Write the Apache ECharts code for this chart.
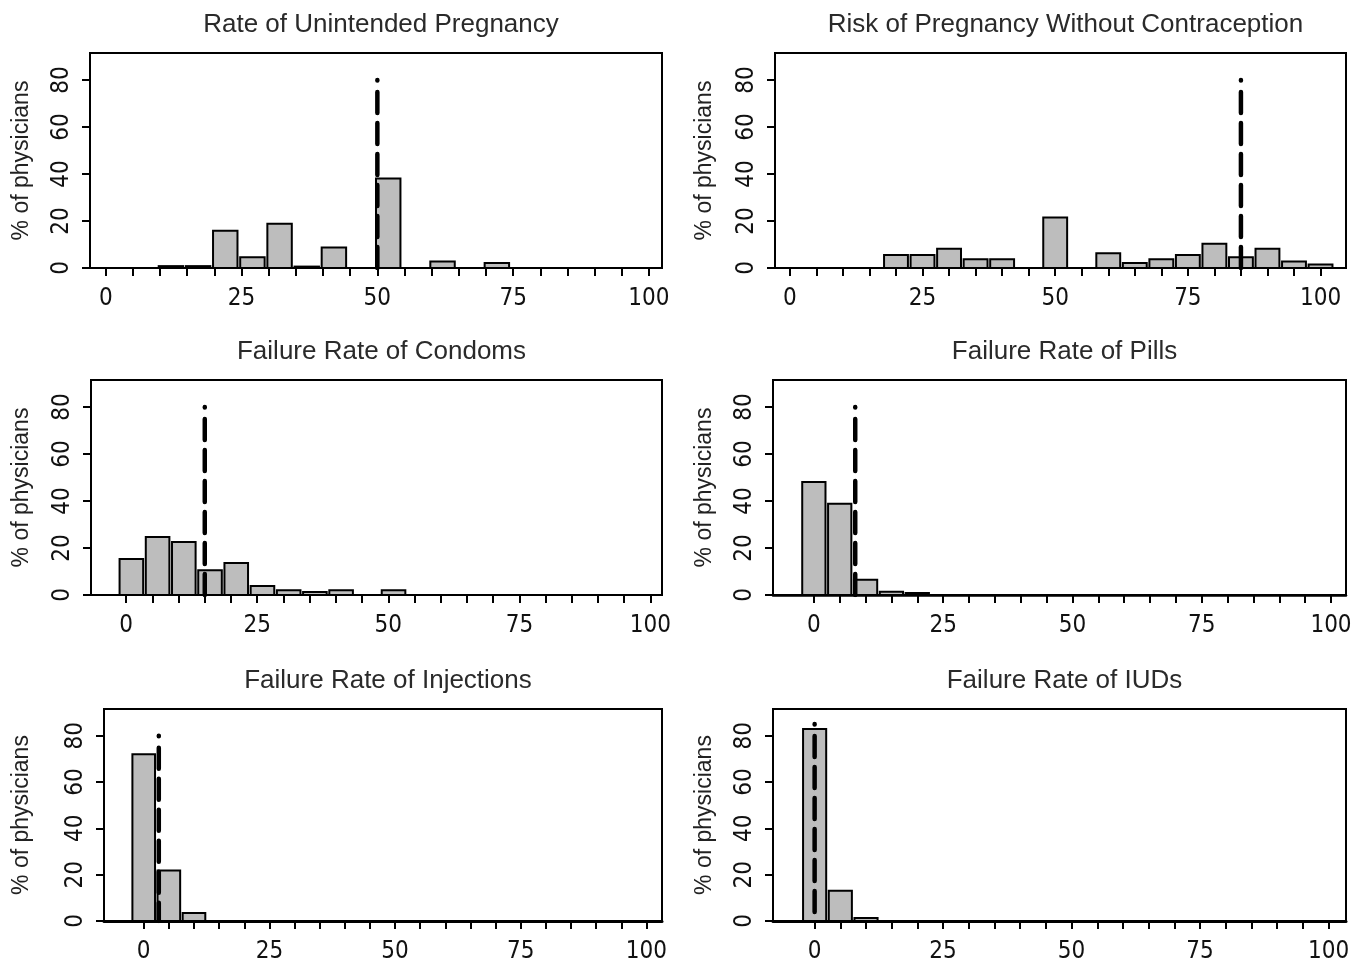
<!DOCTYPE html>
<html>
<head>
<meta charset="utf-8">
<title>Physician estimates of pregnancy risk</title>
<script src="https://cdn.jsdelivr.net/npm/echarts@6.0.0/dist/echarts.min.js"></script>
<style>
  * { margin: 0; padding: 0; }
  body { background: #fff; }
  #chart { width: 1365px; height: 964px; }
</style>
</head>
<body>
<div id="chart"></div>
<script>
// titles of the six panels
var titles = [
  'Rate of Unintended Pregnancy',
  'Risk of Pregnancy Without Contraception',
  'Failure Rate of Condoms',
  'Failure Rate of Pills',
  'Failure Rate of Injections',
  'Failure Rate of IUDs'
];

// bar centres (estimate, %) and bar heights (% of physicians)
var unintendedBins = [12, 17, 22, 27, 32, 37, 42, 52, 62, 72];
var unintendedPct  = [0.8, 0.8, 15.9, 4.6, 18.8, 0.6, 8.7, 38.1, 2.8, 2.1];
var noContraBins = [20, 25, 30, 35, 40, 50, 60, 65, 70, 75, 80, 85, 90, 95, 100];
var noContraPct  = [5.5, 5.5, 8.2, 3.7, 3.7, 21.5, 6.3, 2.1, 3.7, 5.5, 10.3, 4.6, 8.2, 2.8, 1.5];
var condomBins = [1, 6, 11, 16, 21, 26, 31, 36, 41, 51];
var condomPct  = [15.3, 24.7, 22.6, 10.5, 13.6, 3.8, 2.0, 1.3, 2.0, 2.0];
var pillBins = [0, 5, 10, 15, 20];
var pillPct  = [48.1, 38.8, 6.5, 1.4, 0.9];
var injectBins = [0, 5, 10];
var injectPct  = [72.0, 21.8, 3.4];
var iudBins = [0, 5, 10];
var iudPct  = [82.9, 13.1, 1.3];

// true values, drawn as dashed reference lines
var refValues = [50, 85, 15, 8, 3, 0];
var refTops   = [80, 80, 80, 80, 80, 85];

// axis ticks
var xTicks  = [0, 5, 10, 15, 20, 25, 30, 35, 40, 45, 50, 55, 60, 65, 70, 75, 80, 85, 90, 95, 100];
var xLabels = [0, 25, 50, 75, 100];
var yTicks  = [0, 20, 40, 60, 80];

var allBins = [unintendedBins, noContraBins, condomBins, pillBins, injectBins, iudBins];
var allPct  = [unintendedPct, noContraPct, condomPct, pillPct, injectPct, iudPct];

// panel boxes in px, and x range of each panel
var boxes = [
  {left: 90,  top: 53,  width: 572, height: 215, xmin: -2.9, xmax: 102.4, gap: 57, base: 2},
  {left: 775, top: 53,  width: 571, height: 215, xmin: -2.8, xmax: 104.8, gap: 59, base: 2},
  {left: 91,  top: 380, width: 571, height: 215, xmin: -6.7, xmax: 102.2, gap: 58, base: 2},
  {left: 773, top: 380, width: 573, height: 215, xmin: -7.9, xmax: 102.9, gap: 57, base: 2.5},
  {left: 104, top: 709, width: 558, height: 212, xmin: -7.9, xmax: 103.1, gap: 71, base: 3},
  {left: 773, top: 709, width: 573, height: 212, xmin: -8.1, xmax: 103.4, gap: 57, base: 3}
];

var BAR_W = 4.5;
var tickFont = "'Liberation Sans Narrow', 'DejaVu Sans Condensed', sans-serif";
var textFont = "'Liberation Sans', Arial, sans-serif";

function renderBar(params, api) {
  var c = api.value(0), h = api.value(1);
  var p0 = api.coord([c - BAR_W / 2, h]);
  var p1 = api.coord([c + BAR_W / 2, 0]);
  return {
    type: 'rect',
    shape: {x: p0[0], y: p0[1], width: p1[0] - p0[0], height: p1[1] - p0[1]},
    style: {fill: '#bdbdbd', stroke: '#000', lineWidth: 2}
  };
}

var grids = [], xAxes = [], yAxes = [], series = [], titleList = [];

boxes.forEach(function (b, i) {
  grids.push({
    left: b.left, top: b.top, width: b.width, height: b.height,
    show: true, borderColor: '#000', borderWidth: 2, backgroundColor: 'transparent',
    outerBoundsMode: 'none'
  });
  titleList.push({
    text: titles[i],
    left: b.left + b.width / 2, top: b.top - 46, textAlign: 'center',
    textStyle: {fontFamily: textFont, fontSize: 26, fontWeight: 'normal', color: '#2a2a2a'}
  });
  xAxes.push({
    type: 'value', gridIndex: i, min: b.xmin, max: b.xmax,
    splitLine: {show: false},
    axisLine: {show: true, onZero: false, lineStyle: {color: '#000', width: b.base}},
    axisTick: {show: true, length: 8, lineStyle: {color: '#000', width: 2}, customValues: xTicks},
    axisLabel: {
      customValues: xLabels, margin: 19,
      fontFamily: tickFont, fontSize: 24, color: '#111'
    }
  });
  yAxes.push({
    type: 'value', gridIndex: i, min: 0, max: 91.5,
    name: '% of physicians', nameLocation: 'middle', nameGap: b.gap, nameRotate: 90,
    nameTextStyle: {fontFamily: textFont, fontSize: 23, color: '#222'},
    splitLine: {show: false},
    axisLine: {show: true, onZero: false, lineStyle: {color: '#000', width: 2}},
    axisTick: {show: true, length: 8, lineStyle: {color: '#000', width: 2}, customValues: yTicks},
    axisLabel: {
      customValues: yTicks, rotate: 90, margin: 16,
      fontFamily: tickFont, fontSize: 24, color: '#111'
    }
  });
  series.push({
    type: 'custom', xAxisIndex: i, yAxisIndex: i,
    renderItem: renderBar,
    encode: {x: 0, y: 1},
    data: allBins[i].map(function (x, j) { return [x, allPct[i][j]]; })
  });
  series.push({
    type: 'line', xAxisIndex: i, yAxisIndex: i,
    symbol: 'none', z: 5,
    lineStyle: {
      color: '#000', width: 4.5, cap: 'round',
      type: [0.5, 11.5, 21, 10, 21, 10, 21, 10, 21, 10, 21, 10, 21, 10, 21, 10, 21, 10]
    },
    data: [[refValues[i], refTops[i]], [refValues[i], 0]]
  });
});

var chart = echarts.init(document.getElementById('chart'));
chart.setOption({
  animation: false,
  backgroundColor: '#fff',
  title: titleList,
  grid: grids,
  xAxis: xAxes,
  yAxis: yAxes,
  series: series
});
</script>
</body>
</html>
